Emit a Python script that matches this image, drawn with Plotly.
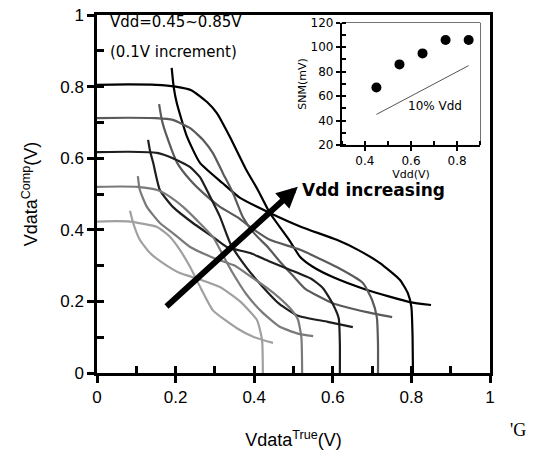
import plotly.graph_objects as go

# Butterfly curves, Vdd = 0.45 ... 0.85 V (H = true-node sweep, V = mirrored)
h085_x = [0, 0.08, 0.15, 0.2, 0.24, 0.28, 0.305, 0.338, 0.38, 0.41, 0.44, 0.49, 0.517, 0.55, 0.6, 0.687, 0.796, 0.85]
h085_y = [0.805, 0.806, 0.805, 0.8, 0.79, 0.757, 0.726, 0.66, 0.567, 0.51, 0.447, 0.37, 0.324, 0.296, 0.268, 0.232, 0.198, 0.19]
v085_x = [0.19, 0.195, 0.203, 0.229, 0.262, 0.32, 0.364, 0.44, 0.52, 0.61, 0.664, 0.72, 0.771, 0.791, 0.8, 0.803, 0.804]
v085_y = [0.852, 0.8, 0.754, 0.66, 0.587, 0.53, 0.489, 0.447, 0.408, 0.372, 0.344, 0.307, 0.26, 0.223, 0.184, 0.1, 0]

h075_x = [0, 0.08, 0.15, 0.193, 0.237, 0.27, 0.295, 0.32, 0.346, 0.371, 0.40, 0.436, 0.464, 0.5, 0.53, 0.6, 0.687, 0.751]
h075_y = [0.712, 0.713, 0.712, 0.707, 0.684, 0.651, 0.614, 0.559, 0.503, 0.436, 0.39, 0.35, 0.313, 0.27, 0.235, 0.195, 0.17, 0.156]
v075_x = [0.158, 0.165, 0.178, 0.204, 0.237, 0.27, 0.313, 0.356, 0.40, 0.44, 0.517, 0.61, 0.677, 0.7, 0.712, 0.715, 0.715]
v075_y = [0.751, 0.707, 0.66, 0.587, 0.539, 0.503, 0.464, 0.436, 0.40, 0.372, 0.344, 0.296, 0.251, 0.204, 0.156, 0.08, 0]

h065_x = [0, 0.08, 0.153, 0.193, 0.237, 0.262, 0.288, 0.313, 0.34, 0.38, 0.419, 0.464, 0.511, 0.587, 0.651]
h065_y = [0.617, 0.618, 0.615, 0.6, 0.575, 0.547, 0.492, 0.436, 0.36, 0.295, 0.244, 0.193, 0.16, 0.143, 0.128]
v065_x = [0.13, 0.135, 0.143, 0.16, 0.193, 0.244, 0.295, 0.33, 0.39, 0.436, 0.492, 0.547, 0.575, 0.6, 0.615, 0.618, 0.618]
v065_y = [0.651, 0.62, 0.587, 0.511, 0.464, 0.419, 0.38, 0.352, 0.335, 0.313, 0.288, 0.262, 0.237, 0.193, 0.153, 0.08, 0]

h055_x = [0, 0.06, 0.104, 0.153, 0.186, 0.219, 0.254, 0.295, 0.32, 0.345, 0.38, 0.42, 0.464, 0.511, 0.55]
h055_y = [0.52, 0.521, 0.52, 0.511, 0.492, 0.464, 0.427, 0.38, 0.33, 0.28, 0.22, 0.17, 0.13, 0.11, 0.103]
v055_x = [0.104, 0.109, 0.127, 0.16, 0.193, 0.237, 0.30, 0.35, 0.39, 0.43, 0.464, 0.492, 0.511, 0.52, 0.522]
v055_y = [0.55, 0.511, 0.464, 0.419, 0.391, 0.352, 0.32, 0.30, 0.27, 0.24, 0.21, 0.18, 0.15, 0.1, 0]

h045_x = [0, 0.05, 0.084, 0.153, 0.186, 0.211, 0.237, 0.265, 0.295, 0.356, 0.40, 0.448]
h045_y = [0.423, 0.424, 0.423, 0.408, 0.38, 0.344, 0.296, 0.235, 0.175, 0.125, 0.1, 0.084]
v045_x = [0.084, 0.092, 0.109, 0.135, 0.168, 0.211, 0.26, 0.313, 0.364, 0.407, 0.42, 0.422]
v045_y = [0.453, 0.419, 0.372, 0.335, 0.307, 0.279, 0.262, 0.24, 0.2, 0.148, 0.092, 0]

# inset: SNM vs Vdd
snm_vdd = [0.45, 0.55, 0.65, 0.75, 0.85]
snm_mv = [67, 86, 95, 106, 106]
ref_vdd = [0.45, 0.85]
ref_mv = [45, 85]

curves = [
    (h085_x, h085_y, v085_x, v085_y, "#000000"),
    (h075_x, h075_y, v075_x, v075_y, "#5a5a5a"),
    (h065_x, h065_y, v065_x, v065_y, "#1e1e1e"),
    (h055_x, h055_y, v055_x, v055_y, "#7a7a7a"),
    (h045_x, h045_y, v045_x, v045_y, "#a0a0a0"),
]

fig = go.Figure()

for hx, hy, vx, vy, col in curves:
    for xs, ys in ((hx, hy), (vx, vy)):
        fig.add_trace(go.Scatter(x=xs, y=ys, mode="lines",
                                 line=dict(color=col, width=2.2, shape="spline", smoothing=0.5),
                                 showlegend=False, hoverinfo="skip"))

# invisible trace so the inside-tick overlay axes get drawn
fig.add_trace(go.Scatter(x=[0.5], y=[0.5], xaxis="x3", yaxis="y3", mode="markers",
                         marker=dict(opacity=0), showlegend=False, hoverinfo="skip"))

# inset
fig.add_trace(go.Scatter(x=ref_vdd, y=ref_mv, xaxis="x2", yaxis="y2", mode="lines",
                         line=dict(color="#555555", width=1), showlegend=False, hoverinfo="skip"))
fig.add_trace(go.Scatter(x=snm_vdd, y=snm_mv, xaxis="x2", yaxis="y2", mode="markers",
                         marker=dict(color="black", size=10), showlegend=False, hoverinfo="skip"))

tickfont = dict(family="Liberation Sans, Arial", size=17, color="black")
titlefont = dict(family="Liberation Sans, Arial", size=18, color="black")
insetfont = dict(family="DejaVu Sans", size=12, color="black")

fig.update_layout(
    width=545, height=456,
    margin=dict(l=97, r=55, t=15, b=83, autoexpand=False),
    paper_bgcolor="white", plot_bgcolor="white",
    xaxis=dict(range=[0, 1], dtick=0.2, showgrid=False, zeroline=False, automargin=False,
               showline=True, linecolor="black", linewidth=2.5, mirror=True,
               ticks="outside", ticklen=7, tickwidth=2.5, tickcolor="black",
               tickfont=tickfont, tickformat="~g", ticklabeloverflow="allow",
               title=dict(text="Vdata<sup>True</sup>(V)", font=titlefont, standoff=28)),
    yaxis=dict(range=[0, 1], dtick=0.2, showgrid=False, zeroline=False, automargin=False,
               showline=True, linecolor="black", linewidth=2.5, mirror=True,
               ticks="outside", ticklen=7, tickwidth=2.5, tickcolor="black",
               tickfont=tickfont, tickformat="~g", ticklabeloverflow="allow",
               title=dict(text="Vdata<sup>Comp</sup>(V)", font=titlefont, standoff=18)),
    xaxis3=dict(range=[0, 1], overlaying="x", anchor="y", side="bottom", dtick=0.1,
                showgrid=False, zeroline=False, showline=False, automargin=False,
                ticks="inside", ticklen=7, tickwidth=2.5, tickcolor="black",
                showticklabels=False),
    yaxis3=dict(range=[0, 1], overlaying="y", anchor="x", side="left", dtick=0.1,
                showgrid=False, zeroline=False, showline=False, automargin=False,
                ticks="inside", ticklen=7, tickwidth=2.5, tickcolor="black",
                showticklabels=False),
    xaxis2=dict(domain=[0.623, 0.975], anchor="y2", range=[0.3, 0.9], dtick=0.2, automargin=False,
                showgrid=False, zeroline=False, showline=True, linecolor="black", linewidth=2,
                ticks="outside", ticklen=4, tickwidth=1.5, tickcolor="black",
                minor=dict(ticks="inside", dtick=0.1, ticklen=4, tickwidth=1.5, tickcolor="black"),
                tickfont=insetfont,
                title=dict(text="Vdd(V)", font=dict(family="DejaVu Sans", size=11, color="black"), standoff=0)),
    yaxis2=dict(domain=[0.637, 0.978], anchor="x2", range=[20, 120], dtick=20, automargin=False,
                showgrid=False, zeroline=False, showline=True, linecolor="black", linewidth=2,
                ticks="outside", ticklen=4, tickwidth=1.5, tickcolor="black",
                minor=dict(ticks="inside", dtick=10, ticklen=4, tickwidth=1.5, tickcolor="black"),
                tickfont=insetfont,
                title=dict(text="SNM(mV)", font=dict(family="DejaVu Sans", size=11, color="black"), standoff=2)),
    shapes=[dict(type="rect", xref="x2 domain", yref="y2 domain", x0=0, x1=1, y0=0, y1=1,
                 line=dict(color="black", width=1), layer="below")],
    annotations=[
        dict(x=0.028, y=0.98, xref="x", yref="y", text="Vdd=0.45~0.85V", showarrow=False,
             xanchor="left", font=dict(family="DejaVu Sans", size=15, color="black")),
        dict(x=0.028, y=0.897, xref="x", yref="y", text="(0.1V increment)", showarrow=False,
             xanchor="left", font=dict(family="DejaVu Sans", size=15, color="black")),
        dict(x=0.511, y=0.52, ax=0.173, ay=0.182, xref="x", yref="y", axref="x", ayref="y",
             text="", showarrow=True, arrowhead=2, arrowsize=0.7, arrowwidth=6, arrowcolor="black"),
        dict(x=0.517, y=0.511, xref="x", yref="y", text="<b>Vdd increasing</b>", showarrow=False,
             xanchor="left", font=dict(family="DejaVu Sans", size=17, color="black")),
        dict(x=0.58, y=52, xref="x2", yref="y2", text="10% Vdd", showarrow=False,
             xanchor="left", font=dict(family="DejaVu Sans", size=12, color="black")),
        dict(x=(528 - 97) / 393, y=(373 - 442) / 358, xref="paper", yref="paper", text="'G",
             showarrow=False, font=dict(family="Liberation Serif", size=18, color="black")),
    ],
)

# drop the page's default body margin so the figure sits at the window's corner
fig.write_html("out.html", config={"displayModeBar": False},
               post_script="document.body.style.margin='0';")
